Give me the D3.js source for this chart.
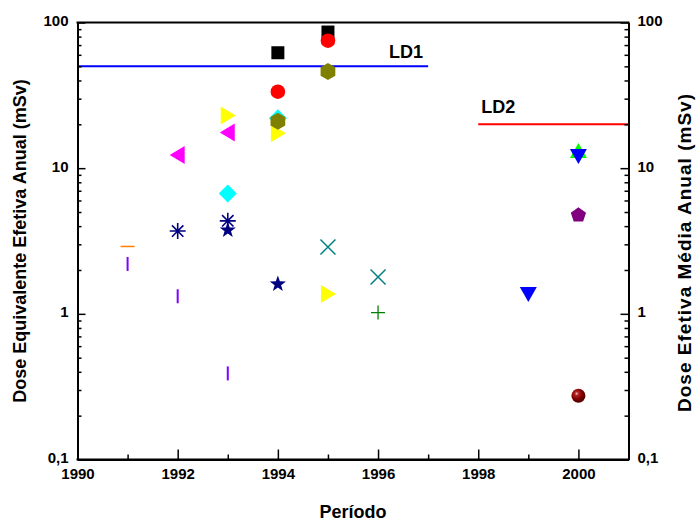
<!DOCTYPE html>
<html><head><meta charset="utf-8">
<script src="https://cdn.jsdelivr.net/npm/d3@7"></script>
<style>body{margin:0;background:#fff}svg{display:block}text{font-family:"Liberation Sans",Arial,sans-serif;font-weight:bold}</style>
</head><body><svg id="c" width="696" height="523"></svg>
<script>
// ---- data ----
const years  = [1991, 1991, 1992, 1993, 1992, 1993, 1993, 1994, 1992, 1993, 1993, 1993, 1994, 1995, 1994, 1994, 1995, 1994, 1995, 1995, 1995, 1996, 1996, 2000, 2000, 1999, 2000, 2000, 1994];
const doses  = [2.9, 2.2, 1.32, 0.39, 3.7, 4.35, 3.75, 1.6, 12.3, 17.6, 6.7, 23, 17.4, 1.37, 62, 33.5, 86, 22, 75, 46, 2.88, 1.79, 1.02, 13.1, 12.1, 1.37, 4.76, 0.274, 21];
const shapes = ["hbar","vbar","vbar","vbar","asterisk","asterisk","star","star","triL","triL","diamond","triR","triR","triR","square","circle","square","diamond","circle","hexagon","xmark","xmark","plus","triU","triD","triD","pentagon","sphere","hexagon"];
const colors = ["#ff8000","#8000ff","#8000ff","#8000ff","#000080","#000080","#000080","#000080","#ff00ff","#ff00ff","#00ffff","#ffff00","#ffff00","#ffff00","#000000","#ff0000","#000000","#00ffff","#ff0000","#808000","#008080","#008080","#008000","#00ff00","#0000ff","#0000ff","#800080","#800000","#808000"];
const limitNames  = ["LD1", "LD2"];
const limitValues = [50, 20];
const limitFrom   = [1990, 1998];
const limitTo     = [1997, 2001];
const limitColors = ["#0000ff", "#ff0000"];
const xTicks = [1990, 1992, 1994, 1996, 1998, 2000];
const xMinor = [1991, 1993, 1995, 1997, 1999];
const yTicks = [0.1, 1, 10, 100];
const yTickLabels = ["0,1", "1", "10", "100"];

// ---- layout ----
const svg = d3.select("#c");
const L = 77.5, R = 628.5, T = 22.5, B = 459.5;
const x = d3.scaleLinear().domain([1990, 2001]).range([L, R]);
const y = d3.scaleLog().domain([0.1, 100]).range([B, T]);
const yMinor = [];
[0.1, 1, 10].forEach(d => { for (let k = 2; k <= 9; k++) yMinor.push(d * k); });

// limit lines
limitValues.forEach((v, i) => {
  svg.append("line").attr("x1", x(limitFrom[i])).attr("x2", x(limitTo[i]))
    .attr("y1", y(v)).attr("y2", y(v)).attr("stroke", limitColors[i]).attr("stroke-width", 2);
});
svg.append("text").attr("x", x(1997) - 5).attr("y", y(limitValues[0]) - 8).attr("text-anchor", "end")
  .attr("font-size", 18).text(limitNames[0]);
svg.append("text").attr("x", x(1998) + 3).attr("y", y(limitValues[1]) - 11).attr("text-anchor", "start")
  .attr("font-size", 18).text(limitNames[1]);

// sphere gradient
const defs = svg.append("defs");
const g = defs.append("radialGradient").attr("id", "sph").attr("cx", "38%").attr("cy", "35%").attr("r", "65%");
g.append("stop").attr("offset", "0%").attr("stop-color", "#f0c0c0");
g.append("stop").attr("offset", "22%").attr("stop-color", "#b02020");
g.append("stop").attr("offset", "60%").attr("stop-color", "#800000");
g.append("stop").attr("offset", "100%").attr("stop-color", "#500000");

function poly(pts) { return "M" + pts.map(p => p.join(",")).join("L") + "Z"; }
function regular(n, r, rot) {
  const p = [];
  for (let k = 0; k < n; k++) { const a = rot + k * 2 * Math.PI / n; p.push([r * Math.cos(a), r * Math.sin(a)]); }
  return p;
}
const shapeDefs = {
  square:   { fill: true,  d: poly([[-6.5,-6.5],[6.5,-6.5],[6.5,6.5],[-6.5,6.5]]) },
  triR:     { fill: true,  d: poly([[-7,-9],[8,0],[-7,9]]) },
  triL:     { fill: true,  d: poly([[7,-9],[-8,0],[7,9]]) },
  triU:     { fill: true,  d: poly([[-8.5,7],[0,-8],[8.5,7]]) },
  triD:     { fill: true,  d: poly([[-8.5,-7],[8.5,-7],[0,8]]) },
  diamond:  { fill: true,  d: poly([[0,-9],[9,0],[0,9],[-9,0]]) },
  hexagon:  { fill: true,  d: poly(regular(6, 8.5, -Math.PI / 2)) },
  pentagon: { fill: true,  d: poly(regular(5, 8, -Math.PI / 2)) },
  star:     { fill: true,  d: poly(d3.range(10).map(k => { const r = k % 2 ? 3.4 : 8.5; const a = -Math.PI / 2 + k * Math.PI / 5; return [r * Math.cos(a), r * Math.sin(a)]; })) },
  asterisk: { fill: false, w: 1.6, d: "M-8,0L8,0M0,-8L0,8M-5.7,-5.7L5.7,5.7M-5.7,5.7L5.7,-5.7" },
  xmark:    { fill: false, w: 1.5, d: "M-7.5,-7.5L7.5,7.5M-7.5,7.5L7.5,-7.5" },
  plus:     { fill: false, w: 1.3, d: "M-7,0L7,0M0,-7L0,7" },
  vbar:     { fill: false, w: 2,   d: "M0,-7L0,7" },
  hbar:     { fill: false, w: 1.5, d: "M-7,0L7,0" }
};

const pts = years.map((yr, i) => ({ yr, v: doses[i], s: shapes[i], c: colors[i] }));
const mk = svg.append("g");
pts.forEach(d => {
  const gx = mk.append("g").attr("transform", `translate(${x(d.yr)},${y(d.v)})`);
  if (d.s === "circle") {
    gx.append("circle").attr("r", 7.3).attr("fill", d.c);
  } else if (d.s === "sphere") {
    gx.append("circle").attr("r", 7).attr("fill", "url(#sph)");
  } else {
    const sd = shapeDefs[d.s];
    const p = gx.append("path").attr("d", sd.d);
    if (sd.fill) p.attr("fill", d.c);
    else p.attr("fill", "none").attr("stroke", d.c).attr("stroke-width", sd.w);
  }
});

// axes
const tickFont = sel => sel.selectAll("text").attr("font-size", 15).attr("font-weight", "bold").attr("fill", "#000")
  .style("font-family", "'Liberation Sans',Arial,sans-serif");
const axStyle = sel => { sel.select(".domain").attr("stroke-width", 2); sel.selectAll(".tick line").attr("stroke-width", 1.5); };

const fmtY = d => yTickLabels[yTicks.indexOf(d)];
const la = svg.append("g").attr("transform", `translate(${L},0)`)
  .call(d3.axisLeft(y).tickValues(yTicks).tickFormat(fmtY).tickSizeInner(-8).tickSizeOuter(0).tickPadding(9));
la.call(tickFont).call(axStyle);
la.selectAll(".tick text").attr("dy", "0.2em");
svg.append("g").attr("transform", `translate(${L},0)`)
  .call(d3.axisLeft(y).tickValues(yMinor).tickFormat("").tickSizeInner(-4).tickSizeOuter(0))
  .call(s => s.select(".domain").remove()).call(axStyle);
const ra = svg.append("g").attr("transform", `translate(${R},0)`)
  .call(d3.axisRight(y).tickValues(yTicks).tickFormat(fmtY).tickSizeInner(-8).tickSizeOuter(0).tickPadding(9));
ra.call(tickFont).call(axStyle);
ra.selectAll(".tick text").attr("dy", "0.2em");
svg.append("g").attr("transform", `translate(${R},0)`)
  .call(d3.axisRight(y).tickValues(yMinor).tickFormat("").tickSizeInner(-4).tickSizeOuter(0))
  .call(s => s.select(".domain").remove()).call(axStyle);
const ba = svg.append("g").attr("transform", `translate(0,${B})`)
  .call(d3.axisBottom(x).tickValues(xTicks).tickFormat(d3.format("d")).tickSizeInner(-10).tickSizeOuter(0).tickPadding(9));
ba.call(tickFont).call(axStyle);
svg.append("g").attr("transform", `translate(0,${B})`)
  .call(d3.axisBottom(x).tickValues(xMinor).tickFormat("").tickSizeInner(-5).tickSizeOuter(0))
  .call(s => s.select(".domain").remove()).call(axStyle);
svg.append("line").attr("x1", L - 1).attr("x2", R + 1).attr("y1", T).attr("y2", T).attr("stroke", "#000").attr("stroke-width", 2);
svg.append("line").attr("x1", L - 1).attr("x2", R + 1).attr("y1", B).attr("y2", B).attr("stroke", "#000").attr("stroke-width", 2);

// titles
svg.append("text").attr("x", (L + R) / 2).attr("y", 518).attr("text-anchor", "middle").attr("font-size", 18).text("Período");
svg.append("text").attr("transform", `translate(26,${(T + B) / 2}) rotate(-90)`).attr("text-anchor", "middle")
  .attr("font-size", 18).text("Dose Equivalente Efetiva Anual (mSv)");
svg.append("text").attr("transform", `translate(691,253) rotate(-90)`).attr("text-anchor", "middle")
  .attr("font-size", 19).attr("textLength", 318).attr("lengthAdjust", "spacing").text("Dose Efetiva Média Anual (mSv)");
</script></body></html>
